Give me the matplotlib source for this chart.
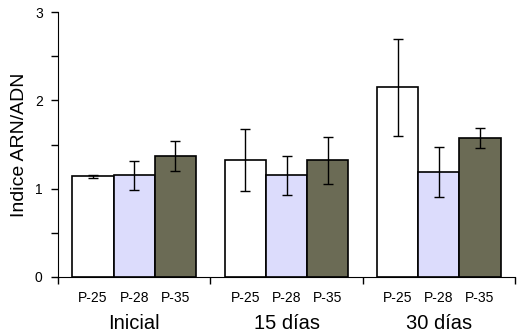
import numpy as np
from matplotlib import pyplot as plt

plt.rcParams['font.family'] = ['Liberation Sans', 'DejaVu Sans']

groups = ['Inicial', '15 días', '30 días']
strains = ['P-25', 'P-28', 'P-35']
colors = ['#ffffff', '#dcdcfc', '#6b6b55']

# indice ARN/ADN por grupo (filas) y cepa (columnas)
values = [
    [1.14, 1.15, 1.37],
    [1.32, 1.15, 1.32],
    [2.15, 1.19, 1.57],
]
errors = [
    [0.02, 0.16, 0.17],
    [0.35, 0.22, 0.265],
    [0.55, 0.28, 0.115],
]


def plot_chart(save_fig=True):
    fig = plt.figure(figsize=(5.2, 3.33), dpi=100)
    ax = fig.add_axes([58/520, 56/333, 457/520, 265/333])

    bar_w = 0.27
    x_group = np.arange(len(groups))
    vals = np.array(values)
    errs = np.array(errors)
    for j, strain in enumerate(strains):
        xs = x_group + (j - 1) * bar_w
        ax.bar(
            xs,
            vals[:, j],
            width=bar_w,
            color=colors[j],
            edgecolor='black',
            linewidth=1.2,
            zorder=2,
        )
        ax.errorbar(
            xs,
            vals[:, j],
            yerr=errs[:, j],
            fmt='none',
            ecolor='black',
            elinewidth=1,
            capsize=3.5,
            capthick=1,
            zorder=3,
        )

    ax.set_xlim(-0.5, len(groups) - 0.5)
    ax.set_ylim(0, 3)
    ax.spines['top'].set_visible(False)
    ax.spines['right'].set_visible(False)

    ax.set_yticks(np.arange(0, 3.01, 1))
    ax.set_yticks(np.arange(0.5, 3, 1), minor=True)
    ax.tick_params(axis='y', which='both', length=5, width=1, direction='out',
                   labelsize=10, pad=6)

    ax.set_xticks(np.arange(-0.5, len(groups), 1))
    ax.set_xticklabels([])
    ax.tick_params(axis='x', length=5, width=1, direction='out')

    trans = ax.get_xaxis_transform()
    for i, g in enumerate(groups):
        for j, strain in enumerate(strains):
            ax.text(i + (j - 1) * bar_w, -0.08, strain, transform=trans,
                    ha='center', va='center', fontsize=10)
        ax.text(i, -0.175, g, transform=trans, ha='center', va='center', fontsize=14.5)

    ax.set_ylabel('Indice ARN/ADN', fontsize=14, labelpad=5)

    if save_fig:
        plt.savefig('out.png', dpi=100)
    return fig, ax


if __name__ == '__main__':
    fig, ax = plot_chart(save_fig=True)
